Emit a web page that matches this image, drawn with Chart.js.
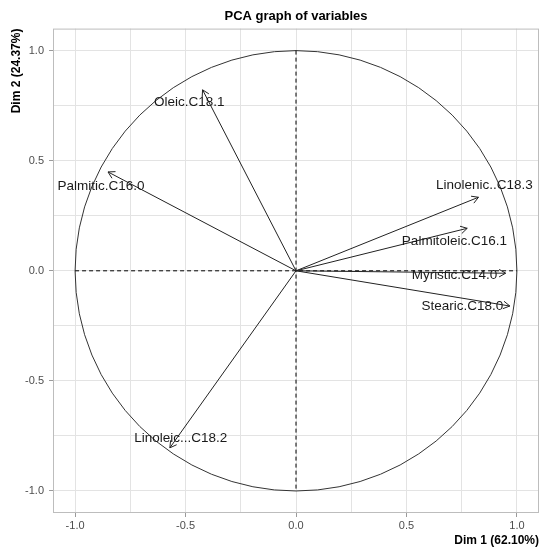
<!DOCTYPE html>
<html lang="en">
<head>
  <meta charset="UTF-8" />
  <title>PCA graph of variables</title>
  <script src="https://cdn.jsdelivr.net/npm/chart.js"></script>
  <style>
    html, body { margin: 0; padding: 0; background: #fff; }
    #wrap { width: 540px; height: 548px; }
  </style>
</head>
<body>
  <div id="wrap"><canvas id="pcaChart" width="540" height="548"></canvas></div>

  <script>
    // variable coordinates
    const variables = ['Myristic.C14.0', 'Palmitic.C16.0', 'Palmitoleic.C16.1', 'Stearic.C18.0',
                       'Oleic.C18.1', 'Linoleic...C18.2', 'Linolenic..C18.3'];
    const dim1 = [0.949, -0.851, 0.775, 0.968, -0.423, -0.571, 0.826];
    const dim2 = [-0.011, 0.449, 0.193, -0.160, 0.822, -0.804, 0.334];
    // where the (repelled) labels sit, in data units
    const labelX = [0.717, -0.883, 0.717, 0.753, -0.483, -0.522, 0.853];
    const labelY = [-0.020, 0.385, 0.134, -0.161, 0.766, -0.761, 0.389];
    const tickValues = [-1.0, -0.5, 0.0, 0.5, 1.0];

    const fontFamily = '"Liberation Sans", Arial, sans-serif';
    Chart.defaults.font.family = fontFamily;

    const datasets = variables.map((name, i) => ({
      label: name,
      data: [{ x: 0, y: 0 }, { x: dim1[i], y: dim2[i] }],
      showLine: true,
      borderColor: '#222',
      borderWidth: 1,
      pointRadius: 0
    }));

    const isMajor = v => tickValues.some(t => Math.abs(t - v) < 1e-6);

    const pcaExtras = {
      id: 'pcaExtras',
      beforeDatasetsDraw(chart) {
        const { ctx, chartArea, scales: { x, y } } = chart;
        ctx.save();
        // correlation circle
        ctx.strokeStyle = '#333';
        ctx.lineWidth = 1;
        ctx.beginPath();
        ctx.ellipse(x.getPixelForValue(0), y.getPixelForValue(0),
          x.getPixelForValue(1) - x.getPixelForValue(0),
          y.getPixelForValue(0) - y.getPixelForValue(1), 0, 0, Math.PI * 2);
        ctx.stroke();
        // dashed axes
        ctx.setLineDash([4, 3]);
        ctx.strokeStyle = '#000';
        ctx.beginPath();
        ctx.moveTo(x.getPixelForValue(-1), y.getPixelForValue(0));
        ctx.lineTo(x.getPixelForValue(1), y.getPixelForValue(0));
        ctx.moveTo(x.getPixelForValue(0), y.getPixelForValue(1));
        ctx.lineTo(x.getPixelForValue(0), y.getPixelForValue(-1));
        ctx.stroke();
        ctx.setLineDash([]);
        // panel border
        ctx.strokeStyle = '#bdbdbd';
        ctx.strokeRect(chartArea.left + 0.5, chartArea.top + 0.5,
          chartArea.right - chartArea.left - 1, chartArea.bottom - chartArea.top - 1);
        ctx.restore();
      },
      afterDatasetsDraw(chart) {
        const { ctx, scales: { x, y } } = chart;
        ctx.save();
        ctx.strokeStyle = '#222';
        ctx.lineWidth = 1;
        const head = 7.5;
        variables.forEach((name, i) => {
          const px = x.getPixelForValue(dim1[i]);
          const py = y.getPixelForValue(dim2[i]);
          const ang = Math.atan2(py - y.getPixelForValue(0), px - x.getPixelForValue(0));
          ctx.beginPath();
          ctx.moveTo(px - head * Math.cos(ang - Math.PI / 6), py - head * Math.sin(ang - Math.PI / 6));
          ctx.lineTo(px, py);
          ctx.lineTo(px - head * Math.cos(ang + Math.PI / 6), py - head * Math.sin(ang + Math.PI / 6));
          ctx.stroke();
        });
        ctx.fillStyle = '#1a1a1a';
        ctx.font = '13.5px ' + fontFamily;
        ctx.textAlign = 'center';
        ctx.textBaseline = 'middle';
        variables.forEach((name, i) => {
          ctx.fillText(name, x.getPixelForValue(labelX[i]), y.getPixelForValue(labelY[i]));
        });
        ctx.restore();
      }
    };

    const axisCommon = {
      type: 'linear',
      min: -1.1,
      max: 1.1,
      border: { display: false },
      grid: {
        color: '#e3e3e3',
        lineWidth: 1,
        drawTicks: true,
        tickLength: 4,
        tickColor: c => (c.tick && isMajor(c.tick.value)) ? '#9a9a9a' : 'rgba(0,0,0,0)'
      },
      ticks: {
        stepSize: 0.25,
        includeBounds: false,
        autoSkip: false,
        maxRotation: 0,
        color: '#4d4d4d',
        font: { size: 11 },
        callback: v => isMajor(v) ? v.toFixed(1) : ''
      }
    };

    new Chart(document.getElementById('pcaChart').getContext('2d'), {
      type: 'scatter',
      data: { datasets },
      options: {
        responsive: false,
        animation: false,
        layout: { padding: { left: 0, right: 1, top: 0, bottom: 0 } },
        plugins: {
          legend: { display: false },
          tooltip: { enabled: false },
          title: {
            display: true,
            text: 'PCA graph of variables',
            fullSize: false,
            color: '#000',
            font: { size: 13, weight: 'bold' },
            padding: { top: 9, bottom: 4 }
          }
        },
        scales: {
          x: {
            ...axisCommon,
            position: 'bottom',
            ticks: { ...axisCommon.ticks, padding: 2 },
            title: {
              display: true, text: 'Dim 1 (62.10%)', align: 'end', color: '#000',
              font: { size: 12, weight: 'bold' }, padding: { top: 0, bottom: 0 }
            },
            afterFit(scale) { scale.height = 35; }
          },
          y: {
            ...axisCommon,
            position: 'left',
            ticks: { ...axisCommon.ticks, padding: 5 },
            title: {
              display: true, text: 'Dim 2 (24.37%)', align: 'end', color: '#000',
              font: { size: 12, weight: 'bold' }, padding: { top: 9, bottom: 0 }
            },
            afterFit(scale) { scale.width = 53; }
          }
        }
      },
      plugins: [pcaExtras]
    });
  </script>
</body>
</html>
